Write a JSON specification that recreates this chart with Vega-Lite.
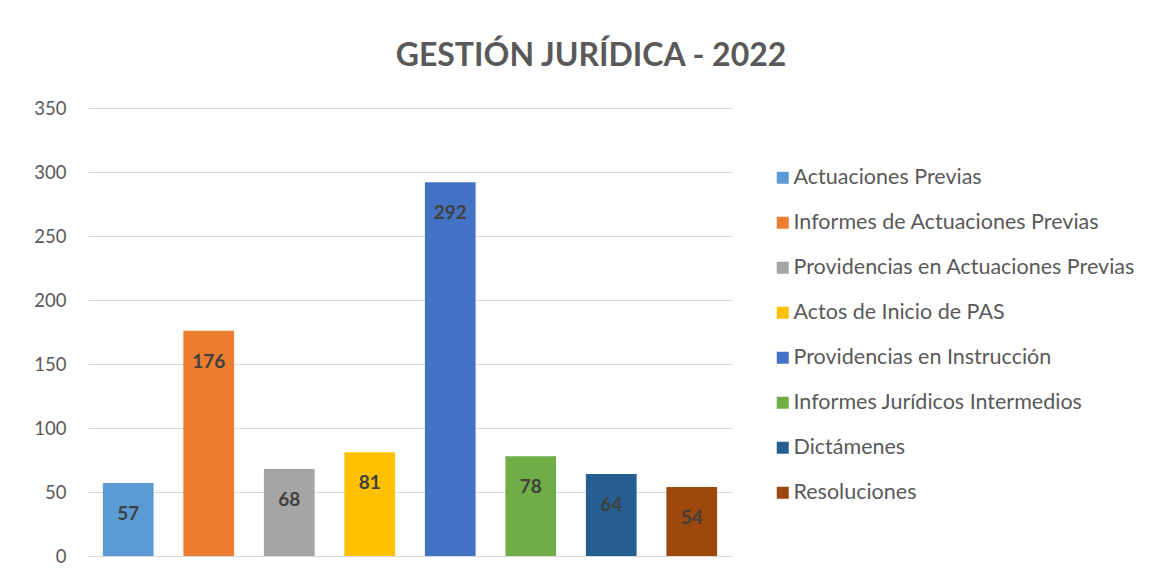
{
  "$schema": "https://vega.github.io/schema/vega-lite/v6.json",
  "autosize": {"type": "none"},
  "width": 644,
  "height": 448,
  "padding": {"left": 88, "top": 108, "right": 427, "bottom": 24},
  "background": "white",
  "title": {
    "text": "GESTIÓN JURÍDICA - 2022",
    "anchor": "middle",
    "dx": 181,
    "offset": 26,
    "fontSize": 32,
    "fontWeight": "bold",
    "color": "#595959",
    "font": "Lato"
  },
  "data": {
    "values": [
      {"categoria": "Actuaciones Previas", "valor": 57},
      {"categoria": "Informes de Actuaciones Previas", "valor": 176},
      {"categoria": "Providencias en Actuaciones Previas", "valor": 68},
      {"categoria": "Actos de Inicio de PAS", "valor": 81},
      {"categoria": "Providencias en Instrucción", "valor": 292},
      {"categoria": "Informes Jurídicos Intermedios", "valor": 78},
      {"categoria": "Dictámenes", "valor": 64},
      {"categoria": "Resoluciones", "valor": 54}
    ]
  },
  "encoding": {
    "x": {
      "field": "categoria",
      "type": "nominal",
      "sort": null,
      "scale": {"paddingInner": 0.37, "paddingOuter": 0.185},
      "axis": null
    },
    "y": {
      "field": "valor",
      "type": "quantitative",
      "scale": {"domain": [0, 350]},
      "axis": {
        "values": [0, 50, 100, 150, 200, 250, 300, 350],
        "title": null,
        "domain": false,
        "ticks": false,
        "labelPadding": 22,
        "labelFontSize": 18.5,
        "labelColor": "#595959",
        "labelFont": "Lato",
        "gridColor": "#D9D9D9",
        "gridWidth": 1
      }
    }
  },
  "layer": [
    {
      "mark": {"type": "bar"},
      "encoding": {
        "color": {
          "field": "categoria",
          "type": "nominal",
          "sort": null,
          "scale": {
            "domain": ["Actuaciones Previas", "Informes de Actuaciones Previas", "Providencias en Actuaciones Previas", "Actos de Inicio de PAS", "Providencias en Instrucción", "Informes Jurídicos Intermedios", "Dictámenes", "Resoluciones"],
            "range": ["#5B9BD5", "#ED7D31", "#A5A5A5", "#FFC000", "#4472C4", "#70AD47", "#255E91", "#9E480E"]
          },
          "legend": {
            "title": null,
            "orient": "none",
            "legendX": 684,
            "legendY": 59,
            "symbolType": "square",
            "symbolSize": 144,
            "symbolStrokeWidth": 0,
            "labelFontSize": 21.5,
            "labelFont": "Lato",
            "labelColor": "#595959",
            "labelOffset": 0,
            "rowPadding": 22,
            "labelLimit": 400
          }
        }
      }
    },
    {
      "mark": {
        "type": "text",
        "baseline": "middle",
        "dy": 31,
        "fontSize": 19,
        "fontWeight": "bold",
        "font": "Lato",
        "color": "#404040"
      },
      "encoding": {
        "text": {"field": "valor", "type": "quantitative"}
      }
    }
  ],
  "config": {"view": {"stroke": null}}
}
